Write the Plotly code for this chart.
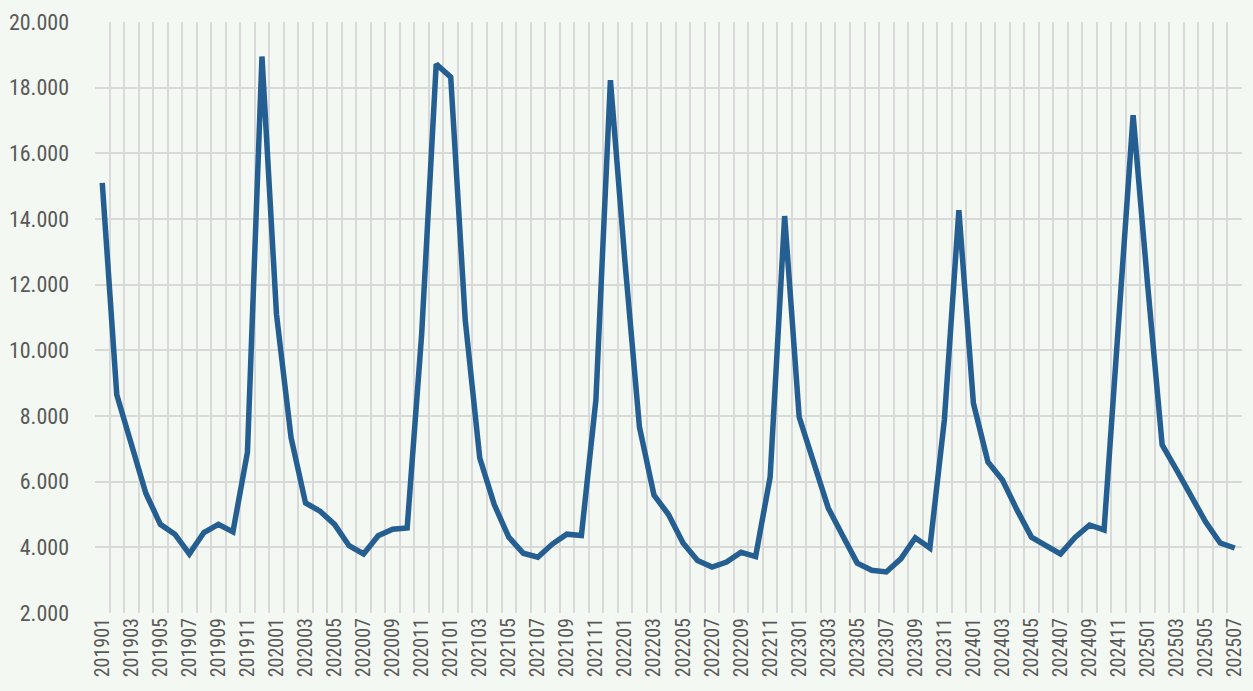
import plotly.graph_objects as go

months = [f"{y}{m:02d}" for y in range(2019, 2026) for m in range(1, 13)][:79]

values = [
    15100, 8650, 7150, 5650, 4700, 4400, 3800, 4450, 4700, 4470, 6900, 18950,
    11100, 7350, 5350, 5100, 4700, 4050, 3800, 4350, 4550, 4590, 10500, 18720,
    18320, 10920, 6720, 5300, 4310, 3820, 3700, 4100, 4400, 4360, 8490, 18230,
    12700, 7660, 5590, 5000, 4130, 3600, 3400, 3550, 3850, 3720, 6140, 14090,
    7970, 6550, 5200, 4350, 3520, 3300, 3250, 3650, 4290, 3980, 7880, 14270,
    8390, 6600, 6050, 5140, 4310, 4050, 3800, 4300, 4680, 4530, 10710, 17160,
    12000, 7120, 6350, 5530, 4770, 4130, 3980,
]

tick_text = [m if i % 2 == 0 else "" for i, m in enumerate(months)]

font_family = "Liberation Sans Narrow, Arial Narrow, Roboto Condensed, DejaVu Sans Condensed, sans-serif"
bg = "#f4f8f2"
grid = "#d9d9d9"

fig = go.Figure()
fig.add_trace(go.Scatter(
    x=months, y=values, mode="lines",
    line=dict(color="#255e91", width=5.5),
    hoverinfo="x+y",
))

fig.update_layout(
    width=1253, height=691,
    margin=dict(l=95, r=11, t=22, b=78),
    paper_bgcolor=bg, plot_bgcolor=bg,
    separators=",.",
    showlegend=False,
    font=dict(family=font_family, color="#595959"),
)
fig.update_xaxes(
    type="category", automargin=False,
    tickmode="array", tickvals=months, ticktext=tick_text,
    tickson="boundaries", ticks="",
    showgrid=True, gridcolor=grid, gridwidth=2,
    tickangle=-90, tickfont=dict(size=20, color="#595959", family=font_family),
    range=[-0.5, len(months) - 0.5],
    showline=False, zeroline=False,
)
fig.update_yaxes(
    automargin=False,
    range=[2000, 20000], dtick=2000, tick0=2000,
    tickformat=",.0f",
    showgrid=True, gridcolor=grid, gridwidth=2,
    zeroline=False, showline=False, ticks="",
    tickfont=dict(size=22, color="#595959", family=font_family),
    ticklabelstandoff=25,
)

fig.write_html(
    "out.html",
    config={"displayModeBar": False},
    post_script=f"document.body.style.margin='0';document.body.style.background='{bg}';",
)
